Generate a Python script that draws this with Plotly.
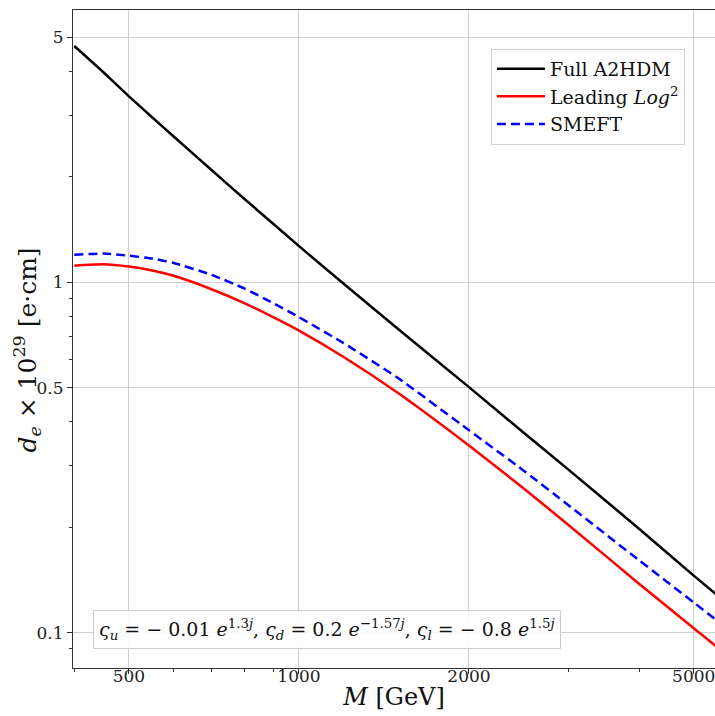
import numpy as np
import plotly.graph_objects as go

# Mass values (GeV)
M = [400, 450, 500, 550, 600, 700, 800, 900, 1000, 1200, 1500, 2000, 2500, 3000, 4000, 5000, 5500]
# d_e x 10^29 [e cm]
full_a2hdm = [4.72, 3.98, 3.39, 2.95, 2.605, 2.09, 1.73, 1.468, 1.268, 0.990, 0.734, 0.502, 0.372, 0.292, 0.198, 0.1455, 0.128]
leading_log2 = [1.115, 1.125, 1.108, 1.080, 1.043, 0.955, 0.872, 0.795, 0.728, 0.612, 0.482, 0.342, 0.258, 0.203, 0.138, 0.1030, 0.0910]
smeft = [1.198, 1.207, 1.190, 1.168, 1.135, 1.050, 0.960, 0.872, 0.795, 0.670, 0.532, 0.378, 0.290, 0.231, 0.161, 0.122, 0.1082]

x_tickvals = [500, 1000, 2000, 5000]
x_ticktext = ["500", "1000", "2000", "5000"]
x_minor = [400, 600, 700, 800, 900, 3000, 4000]
y_tickvals = [0.1, 0.5, 1, 5]
y_ticktext = ["0.1", "0.5", "1", "5"]
y_minor = [0.09, 0.2, 0.3, 0.4, 0.6, 0.7, 0.8, 0.9, 2, 3, 4]

FONT = "DejaVu Serif"

fig = go.Figure()
fig.add_trace(go.Scatter(x=M, y=full_a2hdm, mode="lines", name="Full A2HDM",
                         line=dict(color="black", width=2.5, shape="spline", smoothing=0.5)))
fig.add_trace(go.Scatter(x=M, y=leading_log2, mode="lines", name="Leading <i>Log</i><sup>2</sup>",
                         line=dict(color="#ff0000", width=2.5, shape="spline", smoothing=0.5)))
fig.add_trace(go.Scatter(x=M, y=smeft, mode="lines", name="SMEFT",
                         line=dict(color="#0000ff", width=2.5, dash="9px,5px", shape="spline", smoothing=0.5)))

axis_common = dict(
    showline=True, linecolor="#333333", linewidth=1,
    ticks="outside", ticklen=5, tickwidth=1, tickcolor="#333333",
    showgrid=True, gridcolor="#cfcfcf", gridwidth=1,
    zeroline=False, automargin=False,
    tickfont=dict(family=FONT, size=17, color="#222222"),
)

fig.update_xaxes(type="log", range=[np.log10(398), np.log10(5453)],
                 tickmode="array", tickvals=x_tickvals, ticktext=x_ticktext,
                 ticklabeloverflow="allow", ticklabelstandoff=-12,
                 minor=dict(tickmode="array", tickvals=x_minor, ticks="outside", ticklen=3,
                            tickcolor="#333333", showgrid=False),
                 mirror=True,
                 title=dict(text="<i>M</i> [GeV]", font=dict(family=FONT, size=24, color="#111111"), standoff=2),
                 **axis_common)
fig.update_yaxes(type="log", range=[np.log10(0.0793), np.log10(5.98)],
                 tickmode="array", tickvals=y_tickvals, ticktext=y_ticktext,
                 ticklabeloverflow="allow",
                 minor=dict(tickmode="array", tickvals=y_minor, ticks="outside", ticklen=3,
                            tickcolor="#333333", showgrid=False),
                 mirror=False,
                 **axis_common)

# y-axis title placed as rotated annotation for precise position
fig.add_annotation(
    xref="paper", yref="paper", x=-0.071, y=0.483, xanchor="center", yanchor="middle",
    text="<i>d</i><sub><i>e</i></sub> × 10<sup>29</sup> [e·cm]", textangle=-90,
    showarrow=False, font=dict(family=FONT, size=25, color="#111111"),
)

fig.add_annotation(
    xref="paper", yref="paper", x=0.396, y=0.059, xanchor="center", yanchor="middle",
    text=("<i>ς<sub>u</sub></i> = − 0.01 <i>e</i><sup>1.3<i>j</i></sup>, "
          "<i>ς<sub>d</sub></i> = 0.2 <i>e</i><sup>−1.57<i>j</i></sup>, "
          "<i>ς<sub>l</sub></i> = − 0.8 <i>e</i><sup>1.5<i>j</i></sup>"),
    showarrow=False, font=dict(family=FONT, size=19, color="#111111"),
    bgcolor="rgba(255,255,255,0.85)", bordercolor="#cccccc", borderwidth=1, borderpad=5,
)

fig.update_layout(
    width=715, height=716,
    margin=dict(l=73, r=0, t=10, b=48),
    paper_bgcolor="white", plot_bgcolor="white",
    font=dict(family=FONT, color="#111111"),
    legend=dict(x=0.651, y=0.941, xanchor="left", yanchor="top",
                bgcolor="rgba(255,255,255,0.9)", bordercolor="#d0d0d0", borderwidth=1,
                font=dict(family=FONT, size=19, color="#111111"),
                itemwidth=48, tracegroupgap=0),
    showlegend=True,
)

fig.write_html("out.html", config={"displayModeBar": False},
               post_script="document.body.style.margin='0px';document.body.style.overflow='hidden';")
